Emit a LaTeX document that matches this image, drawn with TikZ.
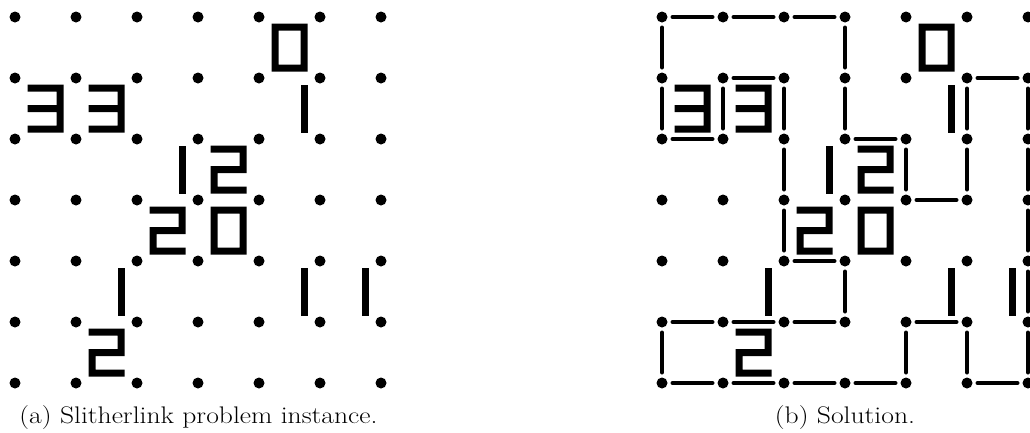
\documentclass[tikz,border=0pt]{standalone}
\usepackage{graphicx}
\begin{document}
\begin{tikzpicture}[x=1pt,y=-1pt]
\useasboundingbox (0,0) rectangle (1030,432);
\tikzset{
  vtx/.style={circle,fill=black,minimum size=11pt,inner sep=0pt,outer sep=5pt},
  loopedge/.style={line width=4pt,line cap=round},
  captext/.style={font=\fontsize{24}{28}\selectfont,anchor=base,inner sep=0pt},
  pics/clue/.style={code={
    \ifcase#1
      \fill[even odd rule] (-18,-24) rectangle (18,24) (-11,-17) rectangle (11,17);
    \or
      \fill (11,-24) rectangle (18,24);
    \or
      \fill (-18,-24) rectangle (18,-17)
            (11,-24) rectangle (18,3.5)
            (-18,-3.5) rectangle (18,3.5)
            (-18,-3.5) rectangle (-11,24)
            (-18,17) rectangle (18,24);
    \or
      \fill (-18,-24) rectangle (18,-17)
            (-18,-3.5) rectangle (18,3.5)
            (-18,17) rectangle (18,24)
            (11,-24) rectangle (18,24);
    \fi
  }}
}
% grid dots
\foreach \r in {0,...,6} {
  \foreach \c in {0,...,6} {
    \node[vtx] (L-\r-\c) at ({15+61*\c},{17+61*\r}) {};
    \node[vtx] (R-\r-\c) at ({662+61*\c},{17+61*\r}) {};
  }
}
% clues
\foreach \r/\c/\v in {0/4/0, 1/0/3, 1/1/3, 1/4/1, 2/2/1, 2/3/2, 3/2/2, 3/3/0, 4/1/1, 4/4/1, 4/5/1, 5/1/2} {
  \pic at ({15+61*\c+30.5},{17+61*\r+30.5}) {clue=\v};
  \pic at ({662+61*\c+30.5},{17+61*\r+30.5}) {clue=\v};
}
% solution loop
\foreach \a/\b in {0-0/0-1, 0-1/0-2, 0-2/0-3, 0-0/1-0, 0-3/1-3,
  1-1/1-2, 1-5/1-6,
  1-0/2-0, 1-1/2-1, 1-2/2-2, 1-3/2-3, 1-5/2-5, 1-6/2-6,
  2-0/2-1, 2-3/2-4,
  2-2/3-2, 2-4/3-4, 2-5/3-5, 2-6/3-6,
  3-4/3-5,
  3-2/4-2, 3-6/4-6,
  4-2/4-3,
  4-3/5-3, 4-6/5-6,
  5-0/5-1, 5-1/5-2, 5-2/5-3, 5-4/5-5,
  5-0/6-0, 5-4/6-4, 5-5/6-5, 5-6/6-6,
  6-0/6-1, 6-1/6-2, 6-2/6-3, 6-3/6-4, 6-5/6-6} {
  \draw[loopedge] (R-\a) -- (R-\b);
}
% captions
\node[captext] (capa) at (198.5,423) {\scalebox{1.15}[1]{(a) Slitherlink problem instance.}};
\node[captext] (capb) at (845,423) {\scalebox{1.15}[1]{(b) Solution.}};
\end{tikzpicture}
\end{document}
